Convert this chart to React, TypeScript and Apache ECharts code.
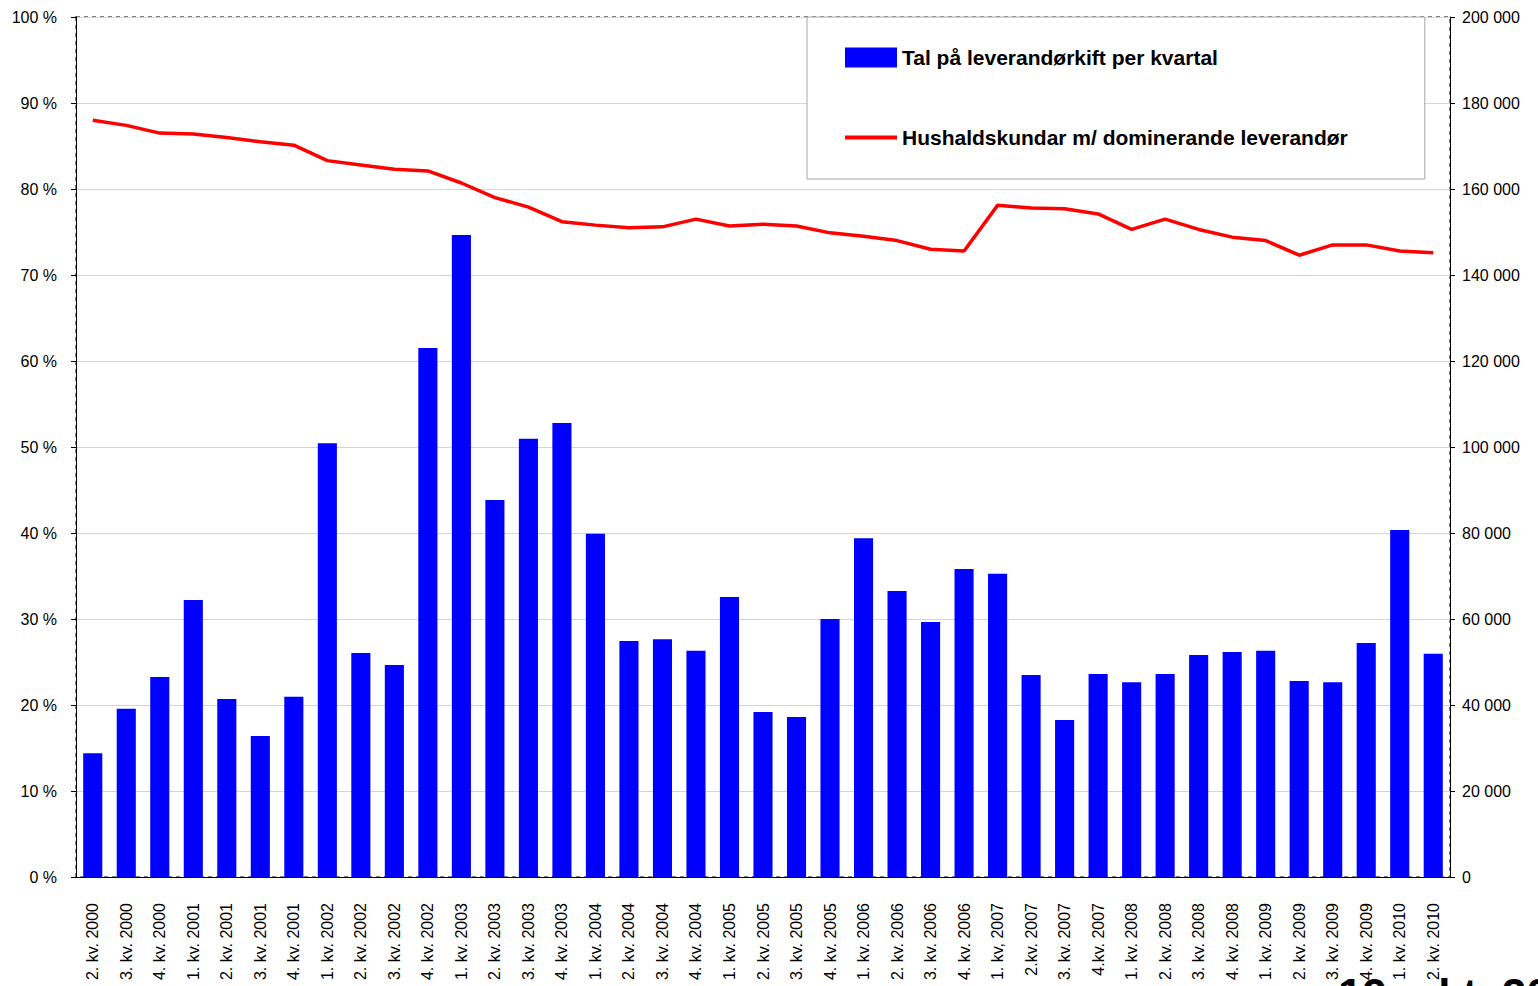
import React, { useEffect, useRef } from "react";
import * as echarts from "echarts";

const categories = [
  "2. kv. 2000", "3. kv. 2000", "4. kv. 2000",
  "1. kv. 2001", "2. kv. 2001", "3. kv. 2001", "4. kv. 2001",
  "1. kv. 2002", "2. kv. 2002", "3. kv. 2002", "4. kv. 2002",
  "1. kv. 2003", "2. kv. 2003", "3. kv. 2003", "4. kv. 2003",
  "1. kv. 2004", "2. kv. 2004", "3. kv. 2004", "4. kv. 2004",
  "1. kv. 2005", "2. kv. 2005", "3. kv. 2005", "4. kv. 2005",
  "1. kv. 2006", "2. kv. 2006", "3. kv. 2006", "4. kv. 2006",
  "1. kv, 2007", "2.kv. 2007", "3. kv. 2007", "4.kv. 2007",
  "1. kv. 2008", "2. kv. 2008", "3. kv. 2008", "4. kv. 2008",
  "1. kv. 2009", "2. kv. 2009", "3. kv. 2009", "4. kv. 2009",
  "1. kv. 2010", "2. kv. 2010",
];

// Tal på leverandørkift per kvartal (right axis)
const switches = [
  28800, 39100, 46500,
  64400, 41400, 32800, 41900,
  100900, 52100, 49300, 123000,
  149300, 87700, 101900, 105600,
  79800, 54900, 55300, 52600,
  65100, 38400, 37200, 60000,
  78800, 66500, 59300, 71600,
  70500, 47000, 36500, 47200,
  45300, 47200, 51600, 52300,
  52600, 45600, 45300, 54400,
  80700, 51900,
];

// Hushaldskundar m/ dominerande leverandør (left axis, %)
const dominantShare = [
  88.0, 87.4, 86.5,
  86.4, 86.0, 85.5, 85.1,
  83.3, 82.8, 82.3, 82.1,
  80.7, 79.0, 77.9, 76.2,
  75.8, 75.5, 75.6, 76.5,
  75.7, 75.9, 75.7, 74.9,
  74.5, 74.0, 73.0, 72.8,
  78.1, 77.8, 77.7, 77.1,
  75.3, 76.5, 75.3, 74.4,
  74.0, 72.3, 73.5, 73.5,
  72.8, 72.6,
];

const barName = "Tal på leverandørkift per kvartal";
const lineName = "Hushaldskundar m/ dominerande leverandør";
const dateText = "19. okt. 2010";

const FONT = "'Liberation Sans', Arial, sans-serif";

export default function App() {
  const ref = useRef<HTMLDivElement>(null);

  useEffect(() => {
    if (!ref.current) return;
    const chart = echarts.init(ref.current, undefined, { renderer: "svg" });
    chart.setOption({
      animation: false,
      backgroundColor: "#ffffff",
      textStyle: { fontFamily: FONT },
      grid: { left: 76, right: 88, top: 17, bottom: 109, containLabel: false },
      legend: {
        left: 807,
        top: 17,
        orient: "vertical",
        padding: [30, 77, 31, 38],
        itemGap: 59,
        itemWidth: 52,
        itemHeight: 20,
        backgroundColor: "#ffffff",
        borderColor: "#a6a6a6",
        borderWidth: 1,
        textStyle: { fontFamily: FONT, fontSize: 21, fontWeight: "bold", color: "#000" },
        data: [
          { name: barName, icon: "rect" },
          { name: lineName, icon: "path://M0,0 L48,0 L48,3.5 L0,3.5 Z" },
        ],
      },
      graphic: [
        {
          type: "rect",
          z: -10,
          silent: true,
          shape: { x: 76, y: 17, width: 1374, height: 860 },
          style: { fill: "none", stroke: "#808080", lineWidth: 2, lineDash: [4, 4] },
        },
        {
          type: "text",
          left: 1338,
          top: 972,
          silent: true,
          style: { text: dateText, fontFamily: FONT, fontSize: 44, fontWeight: "bold", fill: "#000" },
        },
      ],
      xAxis: {
        type: "category",
        data: categories,
        axisLine: { show: true, lineStyle: { color: "#000", width: 1 } },
        axisTick: { show: false },
        axisLabel: {
          rotate: 90,
          interval: 0,
          margin: 26,
          fontSize: 16,
          color: "#000",
          fontFamily: FONT,
        },
      },
      yAxis: [
        {
          type: "value",
          min: 0,
          max: 100,
          interval: 10,
          position: "left",
          axisLine: { show: true, lineStyle: { color: "#000", width: 1 } },
          axisTick: { show: true, length: 5, lineStyle: { color: "#000" } },
          axisLabel: { formatter: "{value} %", fontSize: 16, color: "#000", margin: 19, fontFamily: FONT },
          splitLine: { show: true, lineStyle: { color: "#d4d4d4", width: 1 } },
        },
        {
          type: "value",
          min: 0,
          max: 200000,
          interval: 20000,
          position: "right",
          axisLine: { show: true, lineStyle: { color: "#000", width: 1 } },
          axisTick: { show: true, length: 5, lineStyle: { color: "#000" } },
          axisLabel: {
            fontSize: 16,
            color: "#000",
            margin: 12,
            fontFamily: FONT,
            formatter: (v: number) => (v === 0 ? "0" : String(v).replace(/\B(?=(\d{3})+(?!\d))/g, " ")),
          },
          splitLine: { show: false },
        },
      ],
      series: [
        {
          name: barName,
          type: "bar",
          yAxisIndex: 1,
          data: switches,
          barCategoryGap: "43%",
          itemStyle: { color: "#0000ff" },
          z: 2,
        },
        {
          name: lineName,
          type: "line",
          yAxisIndex: 0,
          data: dominantShare,
          showSymbol: false,
          symbol: "none",
          lineStyle: { color: "#ff0000", width: 3.5 },
          itemStyle: { color: "#ff0000" },
          z: 3,
        },
      ],
    });
    return () => chart.dispose();
  }, []);

  return (
    <div
      ref={ref}
      style={{ position: "fixed", left: 0, top: 0, width: 1538, height: 986, background: "#fff" }}
    />
  );
}
